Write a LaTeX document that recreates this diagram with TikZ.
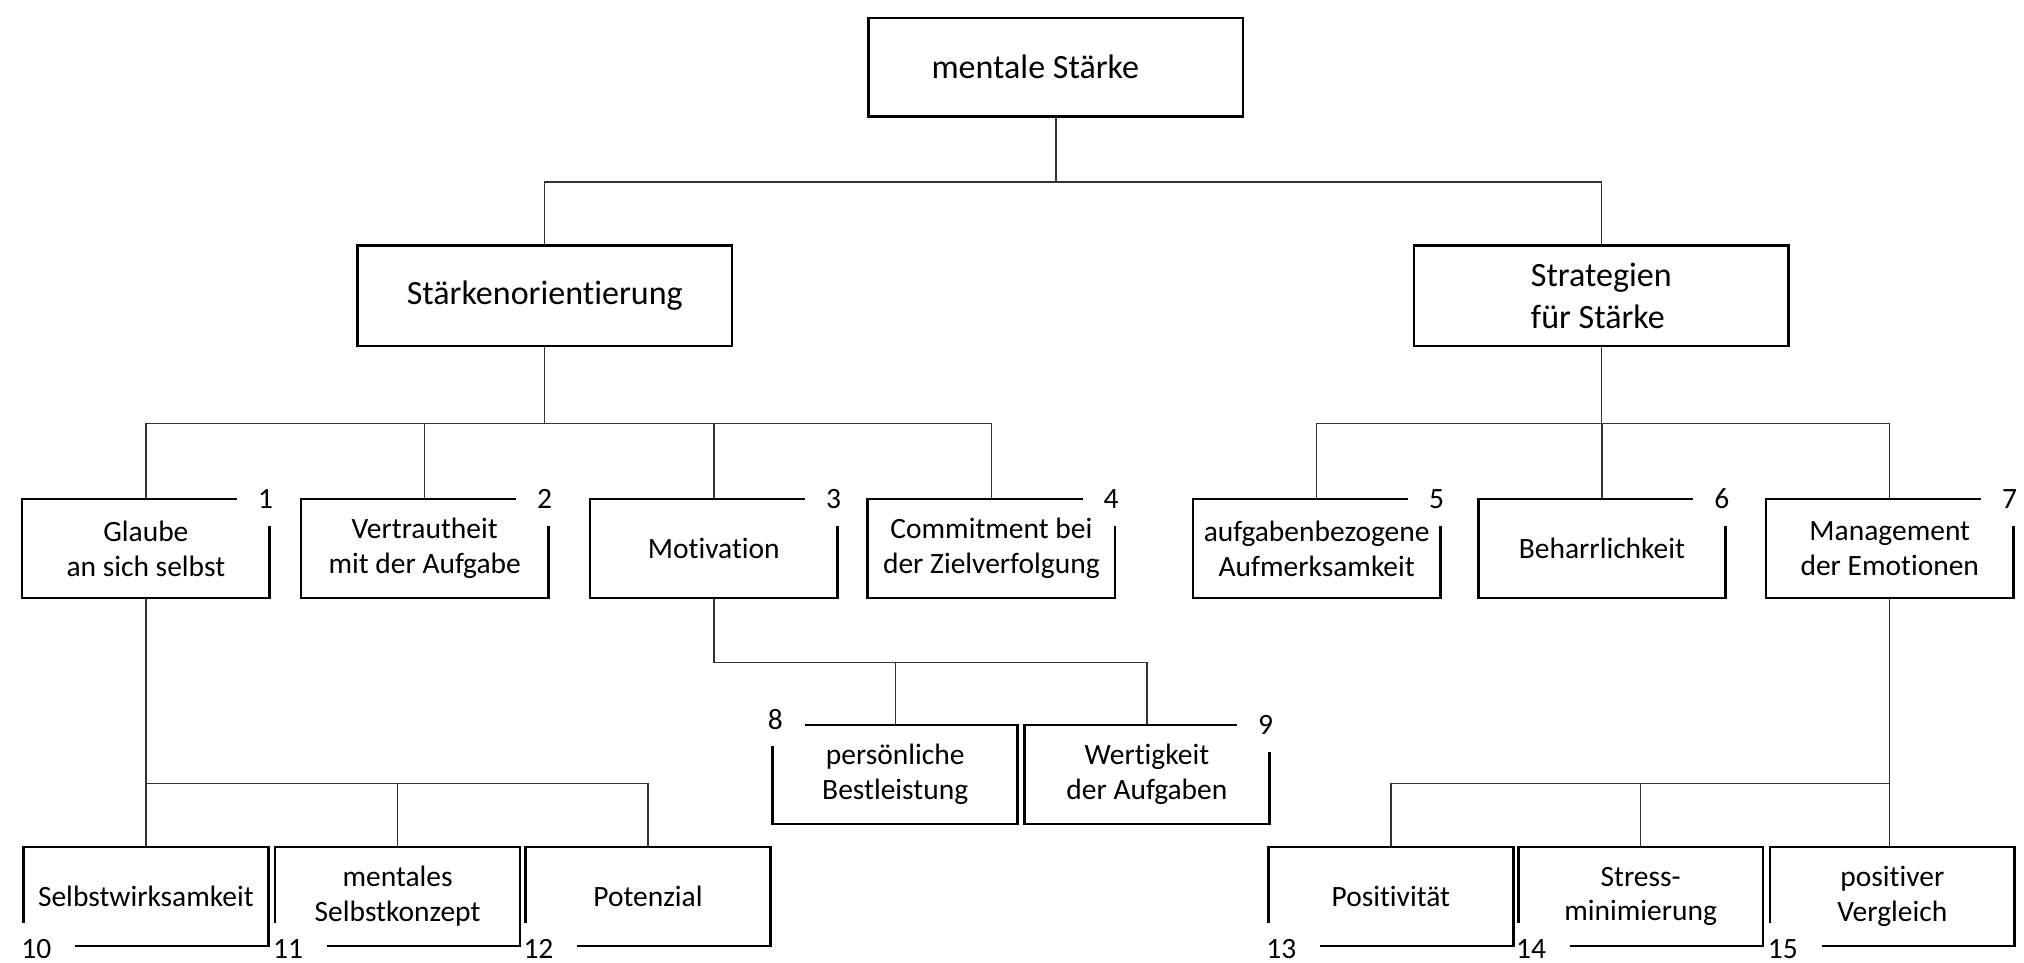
\documentclass[tikz,border=0pt]{standalone}
\usepackage{fontspec}
\setmainfont{Carlito}[Ligatures=NoCommon]

\begin{document}
\begin{tikzpicture}[x=0.2mm,y=-0.2mm,
  topbox/.style={draw, line width=1.2pt, minimum width=58mm, minimum height=15.2mm, inner sep=1pt, font=\fontsize{15}{18.4}\selectfont},
  leafbox/.style={minimum width=37.8mm, minimum height=15.2mm, inner sep=1pt, align=center, font=\fontsize{13}{15.4}\selectfont},
  numlabel/.style={inner sep=0pt, font=\fontsize{13}{15.4}\selectfont},
  rim/.style={line width=1.2pt},
  wire/.style={line width=0.6pt, black!80}]
\useasboundingbox (0,0) rectangle (1568,746);

\node[topbox] (top) at (818,52) {mentale Stärke\hspace*{6.4mm}};
\node[topbox, minimum height=15.6mm] (sto) at (422,229) {Stärkenorientierung};
\node[topbox, minimum height=15.6mm, align=left] (sfs) at (1240.5,229) {Strategien\\für Stärke};

% Ebene 2
\node[leafbox, minimum width=38.2mm] (b1) at (113,425) {Glaube\\an sich selbst};
\node[leafbox, minimum width=38.2mm] (b2) at (329,425) {Vertrautheit\\mit der Aufgabe};
\node[leafbox, minimum width=38.2mm] (b3) at (553,425) {Motivation};
\node[leafbox, minimum width=38.2mm] (b4) at (768,425) {Commitment bei\\der Zielverfolgung};
\node[leafbox, minimum width=38.2mm] (b5) at (1020,425) {aufgabenbezogene\\Aufmerksamkeit};
\node[leafbox, minimum width=38.2mm] (b6) at (1241,425) {Beharrlichkeit};
\node[leafbox, minimum width=38.2mm] (b7) at (1464,425) {Management\\der Emotionen};

% Ebene 3
\node[leafbox] (b8) at (693.5,600) {persönliche\\Bestleistung};
\node[leafbox] (b9) at (888.5,600) {Wertigkeit\\der Aufgaben};

% Ebene 4
\node[leafbox] (b10) at (113,694.5) {Selbstwirksamkeit};
\node[leafbox] (b11) at (308,694.5) {mentales\\Selbstkonzept};
\node[leafbox] (b12) at (502,694.5) {Potenzial};
\node[leafbox] (b13) at (1077.5,694.5) {Positivität};
\node[leafbox] (b14) at (1271,694.5) {Stress-\\minimierung};
\node[leafbox] (b15) at (1466,694.5) {positiver\\Vergleich};

\coordinate (busA) at (0,141);
\coordinate (busB) at (0,328);
\coordinate (busC) at (0,513);
\coordinate (busD) at (0,607);

\draw[wire] (top.south) -- (top.south |- busA);
\draw[wire] (sto.north) -- (sto.north |- busA) -- (sfs.north |- busA) -- (sfs.north);
\draw[wire] (sto.south) -- (sto.south |- busB);
\draw[wire] (b1.north) -- (b1.north |- busB) -- (b4.north |- busB) -- (b4.north);
\draw[wire] (b2.north) -- (b2.north |- busB);
\draw[wire] (b3.north) -- (b3.north |- busB);
\draw[wire] (sfs.south) -- (sfs.south |- busB);
\draw[wire] (b5.north) -- (b5.north |- busB) -- (b7.north |- busB) -- (b7.north);
\draw[wire] (b6.north) -- (b6.north |- busB);
\draw[wire] (b3.south) -- (b3.south |- busC) -- (b9.north |- busC) -- (b9.north);
\draw[wire] (b8.north) -- (b8.north |- busC);
\draw[wire] (b1.south) -- (b10.north);
\draw[wire] (b10.north |- busD) -- (b12.north |- busD) -- (b12.north);
\draw[wire] (b11.north) -- (b11.north |- busD);
\draw[wire] (b7.south) -- (b7.south |- b15.north);
\draw[wire] (b13.north) -- (b13.north |- busD) -- (b7.south |- busD);
\draw[wire] (b14.north) -- (b14.north |- busD);

% offene Ecken mit Nummern
\foreach \n in {1,2,3,4,5,6,7,9} {
  \draw[rim] ([yshift=-4.2mm]b\n.north east) -- (b\n.south east) -- (b\n.south west) -- (b\n.north west) -- ([xshift=-5mm]b\n.north east);
  \node[numlabel] (n\n) at ([xshift=-0.6mm]b\n.north east) {\n};
}
\draw[rim] ([xshift=5mm]b8.north west) -- (b8.north east) -- (b8.south east) -- (b8.south west) -- ([yshift=-3.2mm]b8.north west);
\node[numlabel] (n8) at ([xshift=0.4mm,yshift=0.8mm]b8.north west) {8};
\foreach \n in {10,...,15} {
  \draw[rim] ([yshift=3.6mm]b\n.south west) -- (b\n.north west) -- (b\n.north east) -- (b\n.south east) -- ([xshift=8mm]b\n.south west);
  \node[numlabel] (n\n) at ([xshift=2mm,yshift=-0.5mm]b\n.south west) {\n};
}
\end{tikzpicture}
\end{document}
